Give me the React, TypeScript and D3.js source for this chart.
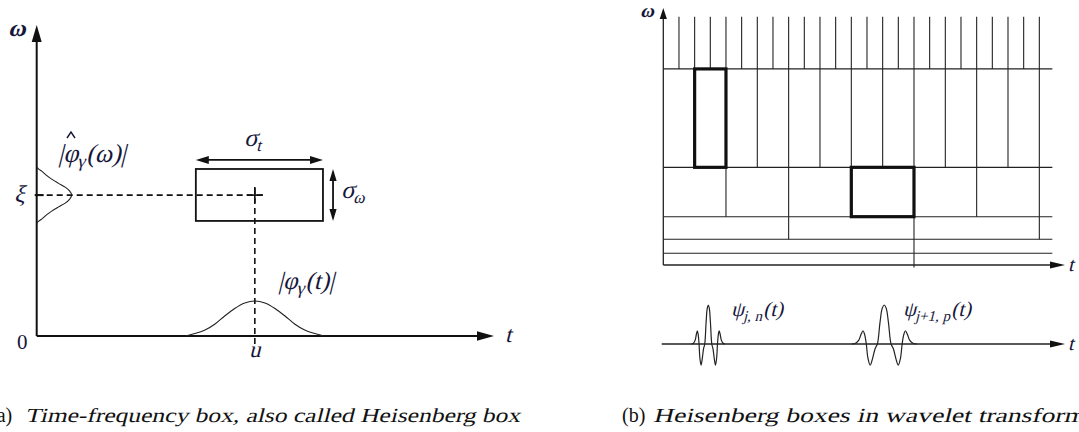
import React from "react";
import * as d3 from "d3";

const W = 1079;
const H = 432;

// ---------- Panel (a): time–frequency (Heisenberg) box ----------
const tAxisEndA = 100; // t axis extent (arrow tip)
const wAxisEndA = 100; // ω axis extent (arrow tip)
const uPos = 47.7; // time centre u
const xiPos = 45.3; // frequency centre ξ
const boxT = [34.8, 62.6]; // box extent in t
const boxW = [37.0, 53.7]; // box extent in ω
const sigmaTLevel = 56.6; // ω level of the σ_t arrow
const sigmaWPos = 64.8; // t position of the σ_ω arrow
const dashHEnd = 49.5; // horizontal dashed guide end (t)
const dashVTop = 47.6; // vertical dashed guide top (ω)
const dashVBottom = -3.9; // vertical dashed guide bottom (ω)

// |φ_γ(t)| envelope: offset from u, height
const timeEnvOffset = [0, 2.2, 4.4, 6.6, 8.7, 10.9, 13.1, 15.1];
const timeEnvHeight = [11.25, 10.6, 8.84, 6.43, 3.86, 1.93, 0.8, 0];
// |φ̂_γ(ω)| envelope: offset from ξ, height (along t)
const freqEnvOffset = [0, 1.29, 2.57, 3.86, 5.14, 6.43, 7.72, 8.36, 9.0];
const freqEnvHeight = [7.65, 7.22, 6.23, 4.7, 3.28, 2.08, 1.09, 0.44, 0];

// ---------- Panel (b): wavelet tiling ----------
const bandEdges = [0, 4.55, 10.0, 18.8, 38.0, 76.3, 96.6]; // bottom → top
const rowSteps = [16, 16, 8, 4, 2, 1]; // time step of each band
const lastDivision = 24;
const gridEnd = 24.83;
const tAxisEndB = 25.64;
const wAxisEndB = 100;
const heavyTiles = [
  { row: 4, k0: 2, k1: 4 },
  { row: 3, k0: 12, k1: 16 },
];

// wavelet shape: normalised offset and amplitude (left half, mirrored)
const waveS = [-1, -0.88, -0.78, -0.71, -0.65, -0.6, -0.55, -0.5, -0.43, -0.36, -0.28, -0.21, -0.13, -0.06, 0];
const waveA = [0, 0.02, 0.1, 0.25, 0.34, 0.24, 0, -0.36, -0.54, -0.38, -0.12, 0, 0.55, 0.92, 1];
const waveCenters = [2.87, 14.1];
const waveHalfWidths = [1.07, 2.08];

// scales
const xA = d3.scaleLinear().domain([0, 100]).range([36.7, 494]);
const yA = d3.scaleLinear().domain([0, 100]).range([336, 25]);
const xB = d3.scaleLinear().domain([0, 25]).range([663.3, 1055]);
const yB = d3.scaleLinear().domain([0, 100]).range([265, 8]);
const yWave = d3.scaleLinear().domain([0, 1]).range([344, 305]);

const INK = "#111";
const LABEL = "#16163a";
const SERIF = '"Liberation Serif", "Times New Roman", serif';
const SLANT = -14;

function head(x: number, y: number, dir: "up" | "down" | "left" | "right", len: number, half: number) {
  switch (dir) {
    case "up":
      return `M${x},${y}L${x - half},${y + len}L${x + half},${y + len}Z`;
    case "down":
      return `M${x},${y}L${x - half},${y - len}L${x + half},${y - len}Z`;
    case "left":
      return `M${x},${y}L${x + len},${y - half}L${x + len},${y + half}Z`;
    default:
      return `M${x},${y}L${x - len},${y - half}L${x - len},${y + half}Z`;
  }
}

// slanted serif text (math italic look)
function Slant(props: {
  x: number;
  y: number;
  size: number;
  anchor?: string;
  weight?: string;
  fill?: string;
  textLength?: number;
  children: React.ReactNode;
}) {
  const { x, y, size, anchor, weight, fill, textLength, children } = props;
  return (
    <g transform={`translate(${x},${y}) skewX(${SLANT})`}>
      <text
        x={0}
        y={0}
        fontSize={size}
        textAnchor={anchor || "start"}
        fontWeight={weight || "normal"}
        fill={fill || LABEL}
        fontFamily={SERIF}
        textLength={textLength}
        lengthAdjust={textLength ? "spacingAndGlyphs" : undefined}
      >
        {children}
      </text>
    </g>
  );
}

export default function App() {
  const line = d3.line<[number, number]>().curve(d3.curveMonotoneX);
  const lineY = d3.line<[number, number]>().curve(d3.curveMonotoneY);
  const waveLine = d3.line<[number, number]>().curve(d3.curveCatmullRom.alpha(0.5));

  // time envelope (symmetric around u)
  const timePts: [number, number][] = [];
  for (let i = timeEnvOffset.length - 1; i > 0; i--) timePts.push([xA(uPos - timeEnvOffset[i]), yA(timeEnvHeight[i])]);
  for (let i = 0; i < timeEnvOffset.length; i++) timePts.push([xA(uPos + timeEnvOffset[i]), yA(timeEnvHeight[i])]);

  // frequency envelope (symmetric around ξ)
  const freqPts: [number, number][] = [];
  for (let i = freqEnvOffset.length - 1; i > 0; i--) freqPts.push([xA(freqEnvHeight[i]), yA(xiPos + freqEnvOffset[i])]);
  for (let i = 0; i < freqEnvOffset.length; i++) freqPts.push([xA(freqEnvHeight[i]), yA(xiPos - freqEnvOffset[i])]);

  // tiling vertical divisions
  const verticals: { x: number; y0: number; y1: number; key: string }[] = [];
  rowSteps.forEach((step, r) => {
    for (let k = step; k <= lastDivision; k += step) {
      const lo = r === 0 ? -1 : bandEdges[r];
      verticals.push({ x: xB(k), y0: yB(lo), y1: yB(bandEdges[r + 1]), key: `${r}-${k}` });
    }
  });

  const waves = waveCenters.map((c, i) => {
    const pts: [number, number][] = [];
    waveS.forEach((s, j) => pts.push([xB(c + s * waveHalfWidths[i]), yWave(waveA[j])]));
    for (let j = waveS.length - 2; j >= 0; j--) pts.push([xB(c - waveS[j] * waveHalfWidths[i]), yWave(waveA[j])]);
    return waveLine(pts);
  });

  const x0 = xA(0);
  const y0 = yA(0);
  const hatX = 71;

  return (
    <svg
      width={W}
      height={H}
      style={{ display: "block", position: "absolute", left: 0, top: 0, background: "#fff", fontFamily: SERIF }}
    >
      <rect width={W} height={H} fill="#fff" />

      {/* ===== Panel (a) ===== */}
      <g>
        {/* axes */}
        <line x1={x0} y1={y0} x2={x0} y2={yA(wAxisEndA) + 14} stroke={INK} strokeWidth={2} />
        <line x1={x0} y1={y0} x2={xA(tAxisEndA) - 14} y2={y0} stroke={INK} strokeWidth={2} />
        <path d={head(x0, yA(wAxisEndA), "up", 17, 5)} fill={INK} />
        <path d={head(xA(tAxisEndA), y0, "right", 17, 4.8)} fill={INK} />

        {/* envelopes */}
        <path d={line(timePts) || ""} fill="none" stroke="#222" strokeWidth={1.1} />
        <path d={lineY(freqPts) || ""} fill="none" stroke="#222" strokeWidth={1.1} />

        {/* box */}
        <rect
          x={xA(boxT[0])}
          y={yA(boxW[1])}
          width={xA(boxT[1]) - xA(boxT[0])}
          height={yA(boxW[0]) - yA(boxW[1])}
          fill="none"
          stroke={INK}
          strokeWidth={1.8}
        />

        {/* dashed guides */}
        <line x1={x0} y1={yA(xiPos)} x2={xA(dashHEnd)} y2={yA(xiPos)} stroke={INK} strokeWidth={1.6} strokeDasharray="6,4" />
        <line x1={xA(uPos)} y1={yA(dashVTop)} x2={xA(uPos)} y2={yA(dashVBottom)} stroke={INK} strokeWidth={1.6} strokeDasharray="6,4" />
        {/* centre cross and ξ tick */}
        <line x1={xA(uPos) - 8} y1={yA(xiPos)} x2={xA(uPos) + 8} y2={yA(xiPos)} stroke={INK} strokeWidth={1.6} />
        <line x1={xA(uPos)} y1={yA(xiPos) - 8} x2={xA(uPos)} y2={yA(xiPos) + 8} stroke={INK} strokeWidth={1.6} />
        <line x1={x0 - 2} y1={yA(xiPos)} x2={x0 + 7} y2={yA(xiPos)} stroke={INK} strokeWidth={2} />

        {/* σ_t arrow */}
        <line x1={xA(boxT[0]) + 10} y1={yA(sigmaTLevel)} x2={xA(boxT[1]) - 10} y2={yA(sigmaTLevel)} stroke={INK} strokeWidth={1.8} />
        <path d={head(xA(boxT[0]), yA(sigmaTLevel), "left", 13, 4)} fill={INK} />
        <path d={head(xA(boxT[1]), yA(sigmaTLevel), "right", 13, 4)} fill={INK} />
        {/* σ_ω arrow */}
        <line x1={xA(sigmaWPos)} y1={yA(boxW[1]) + 10} x2={xA(sigmaWPos)} y2={yA(boxW[0]) - 10} stroke={INK} strokeWidth={1.8} />
        <path d={head(xA(sigmaWPos), yA(boxW[1]), "up", 12, 3.6)} fill={INK} />
        <path d={head(xA(sigmaWPos), yA(boxW[0]), "down", 12, 3.6)} fill={INK} />

        {/* labels */}
        <Slant x={8} y={36} size={24} weight="bold">ω</Slant>
        <Slant x={14} y={202} size={24}>ξ</Slant>
        <text x={17} y={349} fontSize={21} fill={LABEL}>0</text>
        <Slant x={xA(uPos)} y={357} size={23} anchor="middle">u</Slant>
        <Slant x={505} y={342} size={23}>t</Slant>
        <Slant x={244} y={146} size={25}>
          σ<tspan fontSize={17} dy={5}>t</tspan>
        </Slant>
        <Slant x={341} y={198} size={25}>
          σ<tspan fontSize={17} dy={5}>ω</tspan>
        </Slant>
        <Slant x={58} y={162} size={26}>
          |φ<tspan fontSize={18} dy={5}>γ</tspan>
          <tspan dy={-5}>(ω)|</tspan>
        </Slant>
        <path d={`M${hatX - 4},${138}L${hatX},${132}L${hatX + 4},${138}`} fill="none" stroke={LABEL} strokeWidth={1.4} />
        <Slant x={278} y={289} size={25}>
          |φ<tspan fontSize={18} dy={5}>γ</tspan>
          <tspan dy={-5}>(t)|</tspan>
        </Slant>
      </g>

      {/* ===== Panel (b) ===== */}
      <g>
        {/* horizontal band edges */}
        {bandEdges.slice(1, 6).map((e) => (
          <line key={e} x1={xB(0)} y1={yB(e)} x2={xB(gridEnd)} y2={yB(e)} stroke="#222" strokeWidth={1.1} />
        ))}
        {verticals.map((v) => (
          <line key={v.key} x1={v.x} y1={v.y0} x2={v.x} y2={v.y1} stroke="#222" strokeWidth={1.1} />
        ))}
        {heavyTiles.map((t) => (
          <rect
            key={`${t.row}-${t.k0}`}
            x={xB(t.k0)}
            y={yB(bandEdges[t.row + 1])}
            width={xB(t.k1) - xB(t.k0)}
            height={yB(bandEdges[t.row]) - yB(bandEdges[t.row + 1])}
            fill="none"
            stroke={INK}
            strokeWidth={3.2}
          />
        ))}
        {/* axes */}
        <line x1={xB(0)} y1={yB(0)} x2={xB(0)} y2={yB(wAxisEndB) + 10} stroke="#222" strokeWidth={1.3} />
        <line x1={xB(0)} y1={yB(0)} x2={xB(tAxisEndB) - 12} y2={yB(0)} stroke="#222" strokeWidth={1.3} />
        <path d={head(xB(0), yB(wAxisEndB), "up", 11, 3.6)} fill={INK} />
        <path d={head(xB(tAxisEndB), yB(0), "right", 15, 3.6)} fill={INK} />

        {/* wavelets */}
        <line x1={xB(-0.1)} y1={yWave(0)} x2={xB(tAxisEndB) - 12} y2={yWave(0)} stroke="#222" strokeWidth={1.3} />
        <path d={head(xB(tAxisEndB), yWave(0), "right", 15, 3.6)} fill={INK} />
        {waves.map((d, i) => (
          <path key={i} d={d || ""} fill="none" stroke="#222" strokeWidth={1.2} />
        ))}

        <Slant x={640} y={17} size={19} weight="bold">ω</Slant>
        <Slant x={1068} y={271} size={20}>t</Slant>
        <Slant x={1068} y={350} size={20}>t</Slant>
        <Slant x={731} y={316} size={21}>
          ψ<tspan fontSize={15} dy={5}>j, n</tspan>
          <tspan dy={-5}>(t)</tspan>
        </Slant>
        <Slant x={903} y={316} size={21}>
          ψ<tspan fontSize={15} dy={5}>j+1, p</tspan>
          <tspan dy={-5}>(t)</tspan>
        </Slant>
      </g>

      {/* captions */}
      <text x={-10} y={422} fontSize={20} fill="#111">(a)</text>
      <Slant x={25} y={422} size={20} fill="#111" textLength={495}>
        Time-frequency box, also called Heisenberg box
      </Slant>
      <text x={622} y={422} fontSize={20} fill="#111">(b)</text>
      <Slant x={653} y={422} size={20} fill="#111" textLength={432}>
        Heisenberg boxes in wavelet transform
      </Slant>
    </svg>
  );
}
